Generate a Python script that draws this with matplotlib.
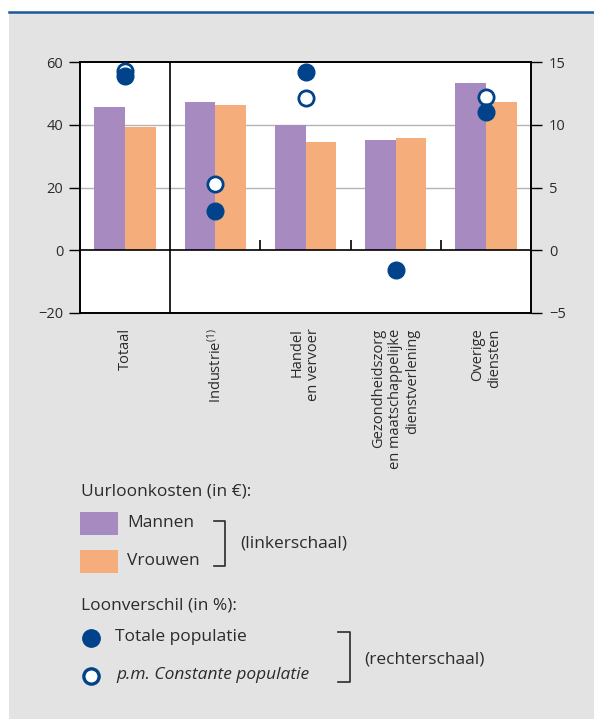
import numpy as np
import matplotlib.pyplot as plt
from matplotlib.lines import Line2D
from matplotlib.patches import Rectangle

plt.rcParams['font.family'] = ['Open Sans', 'DejaVu Sans']
plt.rcParams['mathtext.default'] = 'regular'

# sectors and values
sectors = ['Totaal', 'Industrie$^{(1)}$', 'Handel\nen vervoer',
           'Gezondheidszorg\nen maatschappelijke\ndienstverlening', 'Overige\ndiensten']
men = [45.5, 47.4, 40.0, 35.0, 53.2]          # uurloonkosten mannen (EUR)
women = [39.2, 46.2, 34.4, 35.7, 47.1]        # uurloonkosten vrouwen (EUR)
gap_total = [13.9, 3.1, 14.2, -1.6, 11.0]     # loonverschil totale populatie (%)
gap_const = [14.3, 5.3, 12.1, np.nan, 12.2]   # loonverschil constante populatie (%)

purple = '#a78bc0'
orange = '#f5ae7b'
navy = '#00438b'
panel = '#e3e3e3'
txt = '#2b2b2b'

W, H = 594, 719
fig = plt.figure(figsize=(W / 100, H / 100), dpi=100, facecolor='white')

def fx(px):
    return px / W

def fy(py):
    return 1 - py / H

# grey panel with blue rule on top
fig.patches.append(Rectangle((fx(9), 0), 1, fy(13), transform=fig.transFigure,
                             facecolor=panel, edgecolor='none', zorder=-5))
fig.lines.append(Line2D([fx(9), 1], [fy(12), fy(12)], transform=fig.transFigure,
                        color='#1a5898', lw=1.8, zorder=-4))

ax = fig.add_axes([fx(80), fy(313), fx(531) - fx(80), fy(62) - fy(313)])
ax.set_facecolor('white')
x = np.arange(len(sectors))
bw = 0.34
ax.bar(x - bw / 2, men, bw, color=purple, zorder=2)
ax.bar(x + bw / 2, women, bw, color=orange, zorder=2)

ax.set_xlim(-0.5, len(sectors) - 0.5)
ax.set_ylim(-20, 60)
ax.set_yticks([-20, 0, 20, 40, 60])
for g in [20, 40]:
    ax.axhline(g, color='#b4b4b4', lw=1, zorder=1)
ax.axhline(0, color='black', lw=1.2, zorder=3)
ax.axvline(0.5, color='black', lw=1.2, zorder=3)
# small ticks on the zero line between sectors
ax.vlines(x[1:] + 0.5, 0, 3.2, color='black', lw=1.2, zorder=3)

for s in ax.spines.values():
    s.set_color('black')
    s.set_linewidth(1.2)
ax.tick_params(axis='y', direction='out', length=8, width=1, pad=4,
               labelsize=10.5, labelcolor=txt)
ax.set_xticks(x)
ax.set_xticklabels(sectors, rotation=90, va='top', ha='center',
                   multialignment='right', fontsize=10.5, color=txt,
                   linespacing=1.15)
ax.tick_params(axis='x', length=0, pad=11)

ax2 = ax.twinx()
ax2.set_ylim(-5, 15)
ax2.set_yticks([-5, 0, 5, 10, 15])
ax2.tick_params(axis='y', direction='out', length=8, width=1, pad=5,
                labelsize=10.5, labelcolor=txt)
for s in ax2.spines.values():
    s.set_color('black')
    s.set_linewidth(1.2)
ax2.plot(x, gap_const, 'o', ms=11, mfc='white', mec=navy, mew=2, zorder=4)
ax2.plot(x, gap_total, 'o', ms=12, color=navy, mec=navy, zorder=5)

# legend block
fs = 12.5
fig.text(fx(81), fy(492), 'Uurloonkosten (in €):', fontsize=fs, color=txt, va='center')
fig.patches.append(Rectangle((fx(80), fy(535)), fx(38), fy(0) - fy(23),
                             transform=fig.transFigure, facecolor=purple, edgecolor='none'))
fig.patches.append(Rectangle((fx(80), fy(573)), fx(38), fy(0) - fy(23),
                             transform=fig.transFigure, facecolor=orange, edgecolor='none'))
fig.text(fx(127), fy(523), 'Mannen', fontsize=fs, color=txt, va='center')
fig.text(fx(127), fy(561), 'Vrouwen', fontsize=fs, color=txt, va='center')
fig.lines.append(Line2D([fx(214), fx(225), fx(225), fx(214)],
                        [fy(521), fy(521), fy(566), fy(566)],
                        transform=fig.transFigure, color=txt, lw=1.2))
fig.text(fx(240), fy(543), '(linkerschaal)', fontsize=fs, color=txt, va='center')

fig.text(fx(81), fy(605), 'Loonverschil (in %):', fontsize=fs, color=txt, va='center')
fig.lines.append(Line2D([fx(91)], [fy(638)], transform=fig.transFigure, marker='o',
                        ms=12.5, color=navy, mec=navy))
fig.lines.append(Line2D([fx(91)], [fy(676)], transform=fig.transFigure, marker='o',
                        ms=11, mfc='white', mec=navy, mew=2.4))
fig.text(fx(115), fy(637), 'Totale populatie', fontsize=fs, color=txt, va='center')
fig.text(fx(116), fy(675), 'p.m. Constante populatie', fontsize=fs, color=txt,
         va='center', style='italic')
fig.lines.append(Line2D([fx(338), fx(350), fx(350), fx(338)],
                        [fy(632), fy(632), fy(682), fy(682)],
                        transform=fig.transFigure, color=txt, lw=1.2))
fig.text(fx(364), fy(659), '(rechterschaal)', fontsize=fs, color=txt, va='center')

fig.savefig('out.png', dpi=100)
